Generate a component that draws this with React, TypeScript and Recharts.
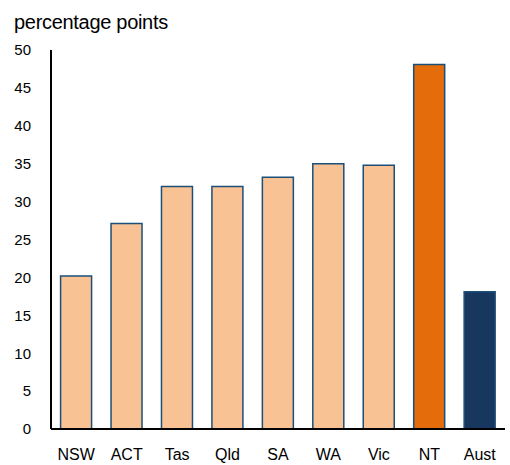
import { BarChart, Bar, XAxis, YAxis, Cell } from "recharts"

// states ranked, then national figure
const states = ["NSW", "ACT", "Tas", "Qld", "SA", "WA", "Vic", "NT", "Aust"]
const gap = [20.2, 27.1, 32.0, 32.0, 33.2, 35.0, 34.8, 48.1, 18.1]
const yTicks = [0, 5, 10, 15, 20, 25, 30, 35, 40, 45, 50]

const barColour = (name: string) => {
  if (name === "NT") return "#e46c0a"
  if (name === "Aust") return "#17375e"
  return "#f9c294"
}

const data = states.map((s, i) => ({ name: s, value: gap[i] }))

const font = "'Liberation Sans', Arial, sans-serif"

export default function App() {
  return (
    <div style={{ position: "absolute", left: 0, top: 0, width: 510, height: 465, background: "#fff", fontFamily: font }}>
      <div
        style={{
          position: "absolute",
          left: 14,
          top: 12,
          fontSize: 20,
          lineHeight: "20px",
          letterSpacing: -0.3,
          color: "#000",
          whiteSpace: "nowrap",
        }}
      >
        percentage points
      </div>
      <BarChart
        width={510}
        height={465}
        data={data}
        margin={{ top: 50, right: 5, bottom: 0, left: 0 }}
        barCategoryGap="19%"
      >
        <XAxis
          dataKey="name"
          height={36}
          tickLine={false}
          tickSize={0}
          tickMargin={20}
          axisLine={{ stroke: "#000", strokeWidth: 2 }}
          tick={{ fill: "#000", fontSize: 16, fontFamily: font }}
          interval={0}
        />
        <YAxis
          width={51}
          domain={[0, 50]}
          ticks={yTicks}
          tickLine={false}
          tickSize={0}
          tickMargin={20}
          axisLine={{ stroke: "#000", strokeWidth: 2 }}
          tick={{ fill: "#000", fontSize: 15, fontFamily: font }}
        />
        <Bar dataKey="value" stroke="#1b4f7a" strokeWidth={1.5} isAnimationActive={false}>
          {data.map((d) => (
            <Cell key={d.name} fill={barColour(d.name)} />
          ))}
        </Bar>
      </BarChart>
    </div>
  )
}
